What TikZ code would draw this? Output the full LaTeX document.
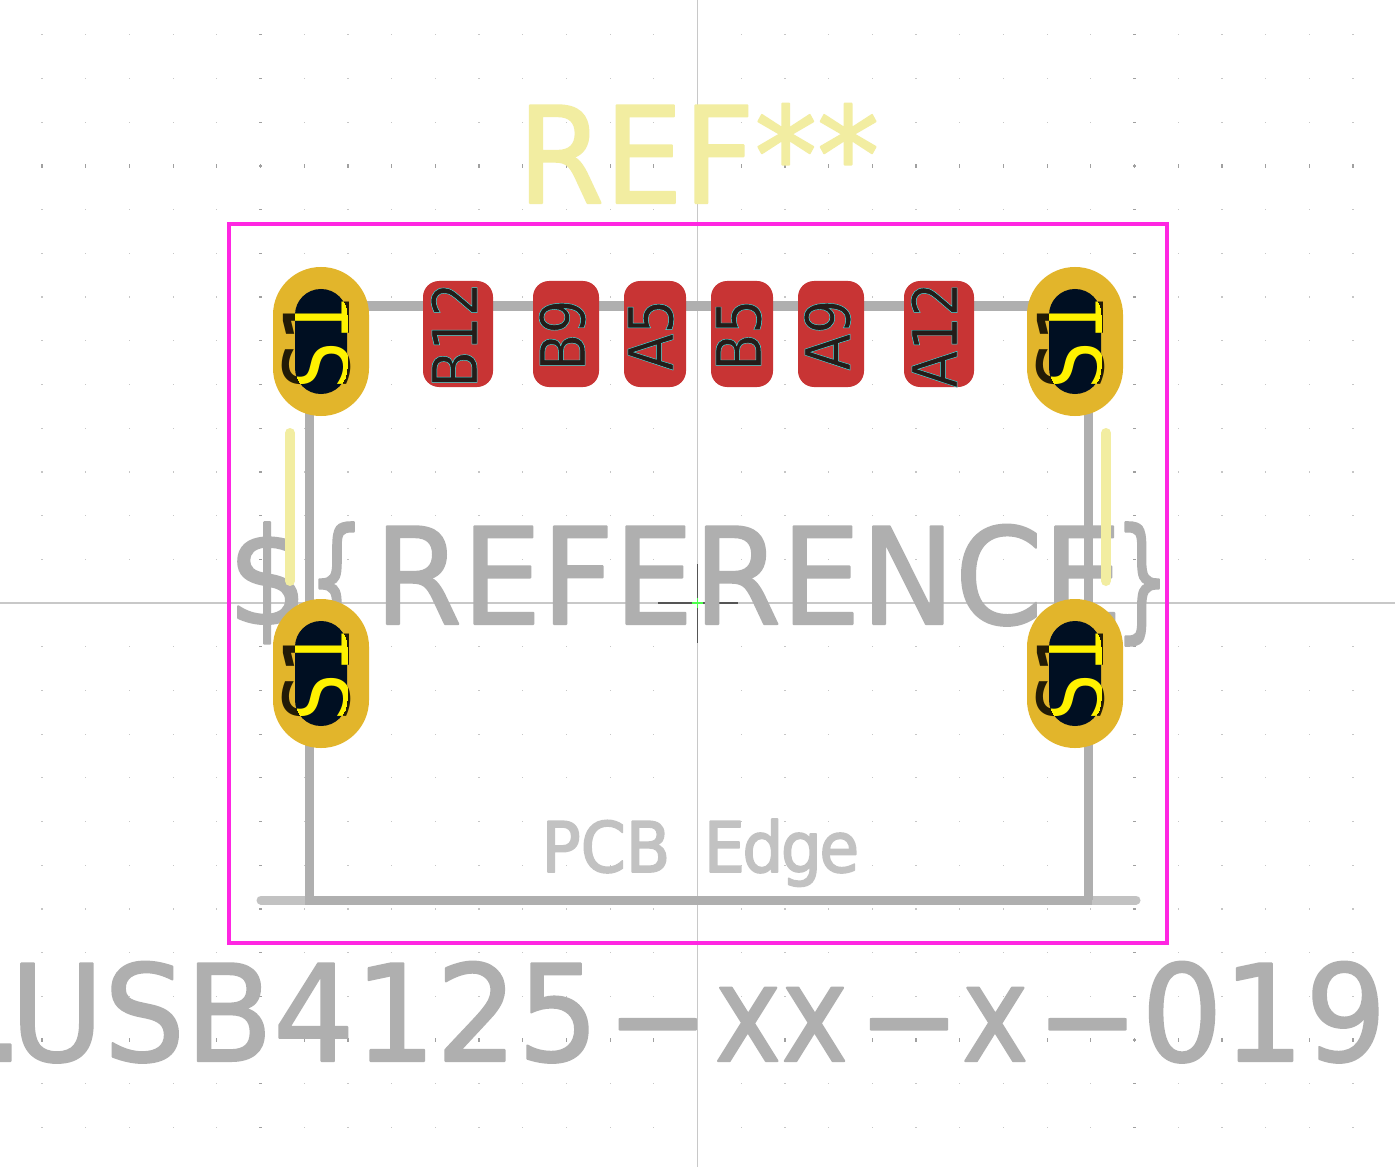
\documentclass[tikz,border=0pt]{standalone}
\usepackage{fontspec}
\usepackage{graphicx}
\setmainfont{DejaVu Sans}
\newfontfamily\silkfont[FakeBold=1.5]{DejaVu Sans}
\newfontfamily\edgefont[FakeBold=2.5]{DejaVu Sans}
\newfontfamily\padfont[FakeBold=0.8]{DejaVu Sans}
\definecolor{silk}{HTML}{F2EDA1}
\definecolor{fabgray}{HTML}{AFAFAF}
\definecolor{edgegray}{HTML}{C2C2C2}
\definecolor{courtyard}{HTML}{FF26E2}
\definecolor{padgold}{HTML}{E2B52B}
\definecolor{padred}{HTML}{C83434}
\definecolor{holeblue}{HTML}{000F22}
\definecolor{crossline}{HTML}{C8C8C8}
\definecolor{crossdark}{HTML}{555555}
\definecolor{griddot}{HTML}{C6C6C6}
\definecolor{gridmajor}{HTML}{A0A0A0}
\newcommand{\px}{0.01cm}
\newcommand{\padtext}[1]{\padfont\fontsize{17.6pt}{17.6pt}\selectfont\special{pdf:bcolor [0.14 0.11 0.1] [0.25 0.9 0.9]}#1\special{pdf:ecolor}}
\newcommand{\wdash}{\scalebox{2.2}[1]{-}}
\newcommand{\thinx}[1]{\scalebox{0.88}[1]{#1}}
\tikzset{
    bigtext/.style={anchor=base west, inner sep=0pt, line join=round, line cap=round, font=\silkfont\fontsize{38.1pt}{38.1pt}\selectfont},
    smdpad/.style={fill=padred, inner sep=0pt, minimum height=106*\px, rounded corners=16*\px},
    padnum/.style={anchor=base, inner sep=0pt, rotate=90, xscale=0.87},
    holepad/.style={fill=padgold, inner sep=0pt, minimum width=96*\px, minimum height=149*\px, rounded corners=47.9*\px},
    drillhole/.style={fill=holeblue, inner sep=0pt, minimum width=52*\px, minimum height=105*\px, rounded corners=25.9*\px},
    padlabel/.style={anchor=base, inner sep=0pt, rotate=90, xscale=0.82, font=\fontsize{25.8pt}{25.8pt}\selectfont},
    fabline/.style={draw=fabgray, line width=9*\px},
    silkbar/.style={draw=silk, line width=10*\px, line cap=round}
}
\begin{document}
\begin{tikzpicture}[x=\px, y=-\px]
    \useasboundingbox[fill=white] (0, 0) rectangle (1395, 1167);

    % grid
    \foreach \i in {-15, ..., 15} {
        \foreach \j in {-13, ..., 13} {
            \fill[griddot] ({697.5 + 43.7 * \i - 0.6}, {603 + 43.7 * \j - 0.6}) rectangle +(1.2, 1.2);
        }
    }
    \foreach \i in {-10, 10} {
        \foreach \j in {-13, ..., 13} {
            \fill[gridmajor] ({697.5 + 43.7 * \i - 1.8}, {603 + 43.7 * \j - 0.6}) rectangle +(3.6, 1.2);
        }
    }
    \foreach \j in {-10, 10} {
        \foreach \i in {-15, ..., 15} {
            \fill[gridmajor] ({697.5 + 43.7 * \i - 0.6}, {603 + 43.7 * \j - 1.8}) rectangle +(1.2, 3.6);
        }
    }

    % axes through the origin
    \draw[crossline, line width=1.1*\px] (697.5, 0) -- (697.5, 1167);
    \draw[crossline, line width=1.1*\px] (0, 603) -- (1395, 603);
    \draw[crossdark, line width=1.4*\px] (658, 603) -- (738, 603);
    \draw[crossdark, line width=1.4*\px] (697.5, 564) -- (697.5, 643);
    \draw[green!70!white, line width=1.1*\px] (692, 603) -- (703, 603);
    \draw[green!70!white, line width=1.1*\px] (697.5, 598) -- (697.5, 608);

    % texts
    \node[bigtext, text=silk, xscale=0.93] (reftext) at (517, 203) {REF**};
    \node[bigtext, text=fabgray, xscale=0.94] (valtext) at (227, 624) {\$\scalebox{0.72}[1]{\{}\kern2.7pt REFERENCE\kern-2.5pt\scalebox{0.7}[1]{\}}};
    \node[bigtext, text=fabgray, xscale=0.956] (parttext) at (-17, 1061) {.\kern-4.3pt USB4125\kern2.4pt\wdash\kern1.8pt\thinx{xx}\kern3pt\wdash\kern0.6pt\thinx{x}\kern2.4pt\wdash\kern0.9pt 01\kern0.3pt 9};
    \node[anchor=base west, inner sep=0pt, text=edgegray, xscale=0.93, line join=round, line cap=round, font=\edgefont\fontsize{19.8pt}{19.8pt}\selectfont] (edgetext) at (541, 872) {PCB\kern4pt\ E\kern-0.8pt d\kern-0.8pt g\kern-0.8pt e};

    % outline
    \draw[edgegray, line width=9*\px, line cap=round] (261, 900) -- (1136, 900);
    \draw[fabline] (309, 900) -- (309, 400);
    \draw[fabline] (1088, 900) -- (1088, 400);
    \draw[fabline] (305, 900) -- (1092, 900);
    \draw[fabline] (320, 306) -- (1075, 306);
    \draw[silkbar] (290, 433) -- (290, 581);
    \draw[silkbar] (1106, 433) -- (1106, 581);
    \draw[courtyard, line width=3.6*\px] (229, 224) rectangle (1167, 943);

    % smd pads
    \foreach \nm/\cx/\wid/\base/\txt in {b12/458/70/477/B12, b9/566/66/585/B9, a5/655/62/673/A5, b5/742/62/761/B5, a9/831/66/850/A9, a12/939/70/957/A12} {
        \node[smdpad, minimum width=\wid*\px] (pad\nm) at (\cx, 334) {};
        \node[padnum] (num\nm) at (\base, 335) {\padtext{\txt}};
    }

    % plated holes
    \foreach \nm/\cx/\cy in {tl/321/341.5, tr/1075/341.5, bl/321/673.5, br/1075/673.5} {
        \node[holepad] (pad\nm) at (\cx, \cy) {};
        \node[padlabel, text=black!85!padgold] (lab\nm) at (\cx + 28, \cy + 1) {S1};
        \node[drillhole] (hole\nm) at (\cx, \cy) {};
        \begin{scope}
            \clip[rounded corners=25.9*\px] (\cx - 26, \cy - 52.5) rectangle (\cx + 26, \cy + 52.5);
            \node[padlabel, text=yellow] (top\nm) at (\cx + 28, \cy + 1) {S1};
        \end{scope}
    }
\end{tikzpicture}
\end{document}
